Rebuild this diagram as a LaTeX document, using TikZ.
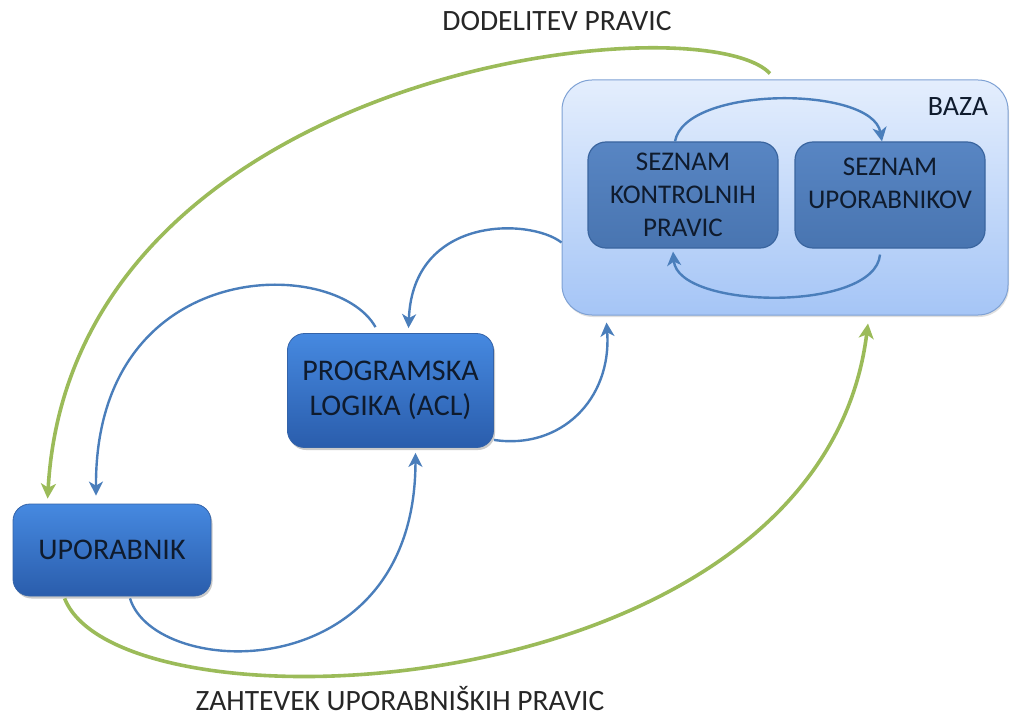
\documentclass[tikz,border=0pt]{standalone}
\usepackage{fontspec}
\setmainfont{Carlito}
\usetikzlibrary{arrows.meta,shadows}
\definecolor{arrblue}{HTML}{4A7EBB}
\definecolor{arrgreen}{HTML}{9BBB59}
\definecolor{txtdark}{HTML}{0F1B2D}
\definecolor{bazatop}{HTML}{E4EEFD}
\definecolor{bazabot}{HTML}{A5C5F6}
\definecolor{bazaedge}{HTML}{7EA1D4}
\definecolor{boxtop}{HTML}{4689E0}
\definecolor{boxbot}{HTML}{2A5DAC}
\definecolor{boxedge}{HTML}{3463A8}
\definecolor{innerfill}{HTML}{4F7FC0}
\definecolor{inneredge}{HTML}{3A659F}
\tikzset{
  bluebox/.style={rectangle, rounded corners=17pt, draw=boxedge, line width=0.8pt,
    top color=boxtop, bottom color=boxbot, text=txtdark, align=center,
    font=\fontsize{30}{35}\selectfont,
    drop shadow={shadow xshift=1.5pt, shadow yshift=-2.5pt, opacity=0.35, fill=black!60}},
  innerbox/.style={rectangle, rounded corners=18pt, draw=inneredge, line width=1.2pt,
    top color=innerfill!95!white, bottom color=innerfill!92!black, text=txtdark, align=center,
    font=\fontsize{27}{33}\selectfont},
  bazabox/.style={rectangle, rounded corners=30pt, draw=bazaedge, line width=1pt,
    top color=bazatop, bottom color=bazabot,
    drop shadow={shadow xshift=1pt, shadow yshift=-2pt, opacity=0.25, fill=black!50}},
  bluearr/.style={draw=arrblue, line width=2.4pt, -{Stealth[length=14pt,width=14pt,inset=4pt]}},
  greenarr/.style={draw=arrgreen, line width=3.6pt, -{Stealth[length=15pt,width=15pt,inset=4pt]}},
  lbl/.style={text=black!85, inner sep=0pt, font=\fontsize{29.5}{35}\selectfont}
}
\begin{document}
\begin{tikzpicture}[x=1pt,y=-1pt]
\useasboundingbox (0,0) rectangle (1011,722);
% boxes
\node[bazabox, minimum width=446pt, minimum height=235pt] (baza) at (785,197.5) {};
\node[text=txtdark, font=\fontsize{28}{33}\selectfont] (bazalbl) at (958,107) {BAZA};
\node[innerbox, minimum width=190pt, minimum height=106pt] (skp) at (683,195) {SEZNAM\\KONTROLNIH\\PRAVIC};
\node[innerbox, minimum width=190pt, minimum height=106pt] (su) at (890,195) {SEZNAM\\UPORABNIKOV\\[-9pt]\mbox{}};
\node[bluebox, minimum width=206pt, minimum height=114pt] (prog) at (390.5,390.5) {PROGRAMSKA\\LOGIKA (ACL)};
\node[bluebox, minimum width=198pt, minimum height=92pt] (upo) at (112,550) {UPORABNIK};
% labels
\node[lbl] (dod) at (557,21) {DODELITEV PRAVIC};
\node[lbl] (zah) at (400,699) {ZAHTEVEK UPORABNIŠKIH PRAVIC};
% inner arcs
\draw[bluearr] ([xshift=-8pt]skp.north) .. controls +(10,-56) and +(-10,-56) .. ([xshift=-8pt]su.north);
\draw[bluearr] ([xshift=-10pt,yshift=-6pt]su.south) .. controls +(-5,58) and +(5,58) .. ([xshift=-10pt,yshift=-3pt]skp.south);
% blue connectors
\draw[bluearr] ([yshift=-45pt]baza.west) .. controls (530,218) and (413,215) .. ([xshift=18pt,yshift=5pt]prog.north);
\draw[bluearr] ([xshift=-15pt,yshift=6pt]prog.north) .. controls (335,255) and (95,255) .. ([xshift=-16pt,yshift=8pt]upo.north);
\draw[bluearr] ([yshift=8pt]prog.south east) .. controls (560,450) and (612,400) .. ([xshift=45pt,yshift=-7pt]baza.south west);
\draw[bluearr] ([xshift=18pt,yshift=-2pt]upo.south) .. controls (155,680) and (415,690) .. ([xshift=25pt,yshift=-5pt]prog.south);
% green connectors
\draw[greenarr] ([xshift=-15pt,yshift=6pt]baza.north) .. controls (700,0) and (72,68) .. ([xshift=35pt,yshift=5pt]upo.north west);
\draw[greenarr] ([xshift=52pt,yshift=-2pt]upo.south west) .. controls (120,740) and (820,710) .. ([xshift=83pt,yshift=-8pt]baza.south);
\end{tikzpicture}
\end{document}
